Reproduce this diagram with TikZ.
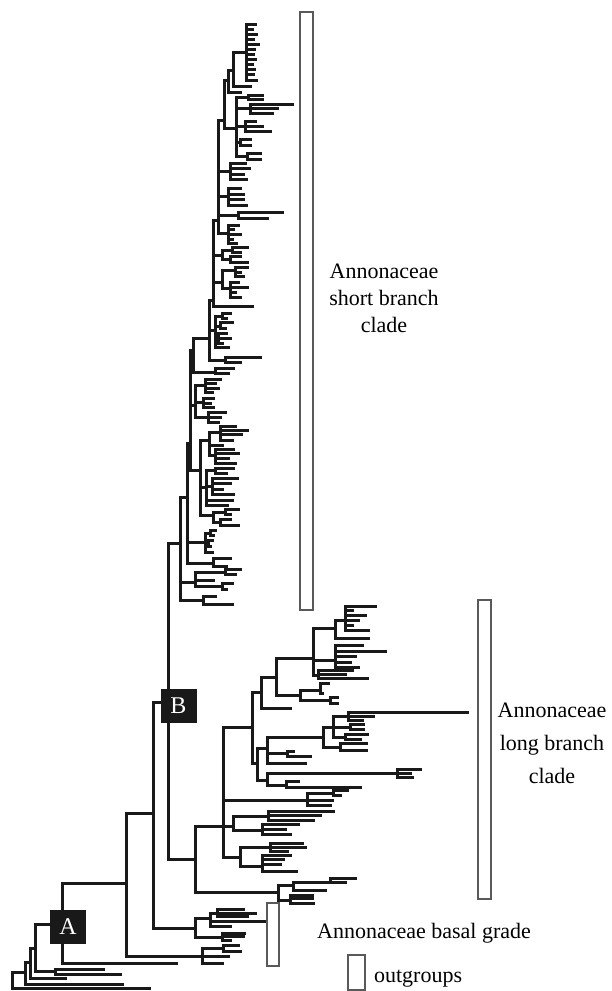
\documentclass[tikz,border=0pt]{standalone}
\usepackage{fontspec}
\setmainfont{Liberation Serif}
\usepackage{tikz}
\usetikzlibrary{positioning}

\tikzset{
  br/.style={line width=1.5pt, line cap=rect, draw=black!90},
  bar/.style={draw=black!65, line width=0.75pt, fill=white},
  nodebox/.style={rectangle, fill=black!90, text=white, minimum width=18pt, minimum height=17pt, inner sep=0pt, font=\fontsize{12}{14}\selectfont},
  lbl/.style={align=center, font=\fontsize{11}{13.5}\selectfont}
}

% one internal node: x, top y, bottom y, list of child y/end x
\newcommand{\clade}[4]{%
  \draw[br] (#1,#2) -- (#1,#3);
  \foreach \cy/\cx in {#4} {\draw[br] (#1,\cy) -- (\cx,\cy);}
}

\begin{document}
\begin{tikzpicture}[x=0.5pt, y=-0.5pt]
\useasboundingbox (0,0) rectangle (611,991);

% outgroups and backbone
\clade{12}{972}{988}{972/25, 988/149}
\clade{25}{962}{984}{962/30, 984/122}
\clade{30}{948}{978}{948/35, 978/65}
\clade{35}{924}{971}{924/62, 971/55}
\clade{55}{969}{974}{969/103, 974/120}
\clade{62}{883}{963}{883/126, 963/176}
\clade{126}{813}{956}{813/153, 956/202}
\clade{202}{948}{963}{948/223, 956/228, 963/222}
\clade{223}{945}{951}{945/238, 951/240}
\clade{153}{702}{928}{702/168, 928/195}

% basal grade
\clade{195}{918}{937}{918/210, 937/222}
\clade{210}{913}{926}{913/217, 921/264, 926/230}
\clade{217}{909}{916}{909/243, 913/255, 916/247}
\clade{222}{933}{940}{933/244, 936/243, 940/230}

% node B
\clade{168}{543}{859}{543/180, 859/195}

% long branch clade
\clade{195}{826}{892}{826/223, 892/278}
\clade{278}{885}{900}{885/293, 900/290}
\clade{293}{882}{890}{882/330, 890/325}
\clade{330}{878}{882}{878/355, 882/345}
\clade{290}{895}{903}{895/312, 898/312, 903/313}
\clade{223}{727}{857}{727/252, 800/307, 826/233, 857/240}
\clade{307}{793}{805}{793/333, 800/332, 805/330}
\clade{333}{790}{795}{790/347, 795/340}
\clade{233}{816}{830}{816/268, 830/262}
\clade{268}{811}{820}{811/333, 815/320, 820/313}
\clade{262}{824}{834}{824/298, 829/285, 834/290}
\clade{240}{847}{866}{847/270, 866/262}
\clade{270}{843}{851}{843/302, 847/305, 851/287}
\clade{262}{855}{871}{855/290, 859/283, 864/280, 871/296}
\clade{252}{692}{763}{692/261, 763/257}
\clade{261}{677}{708}{677/276, 708/290}
\clade{276}{658}{695}{658/313, 695/300}
\clade{313}{628}{675}{628/335, 660/335, 675/318}
\clade{335}{620}{638}{620/345, 638/368}
\clade{345}{606}{630}{606/375, 610/352, 615/365, 620/358, 625/352, 630/368}
\clade{335}{645}{667}{645/362, 651/385, 656/355, 662/350, 667/358}
\clade{318}{670}{678}{670/352, 674/345, 678/367}
\clade{300}{690}{700}{690/320, 700/330}
\clade{320}{683}{693}{683/328, 693/322}
\clade{330}{697}{703}{697/337, 703/337}
\clade{257}{748}{780}{748/267, 780/267}
\clade{267}{737}{763}{737/323, 753/287, 763/305}
\clade{323}{727}{747}{727/333, 747/340}
\clade{333}{716}{737}{716/348, 727/350, 737/345}
\clade{348}{712}{720}{712/467, 716/373, 720/362}
\clade{350}{724}{729}{724/363, 729/363}
\clade{345}{734}{739}{734/367, 739/360}
\clade{340}{743}{750}{743/366, 750/366}
\clade{287}{751}{756}{751/293, 756/310}
\clade{267}{773}{785}{773/397, 785/286}
\clade{397}{769}{777}{769/420, 773/410, 777/412}
\clade{286}{781}{787}{781/298, 787/360}

% short branch clade, lower part
\clade{180}{497}{600}{497/187, 582/195, 600/203}
\clade{187}{443}{563}{443/190, 542/205, 563/213}
\clade{190}{350}{470}{350/193, 405/195, 470/200}
\clade{200}{440}{515}{440/209, 487/206, 515/213}
\clade{209}{432}{455}{432/220, 445/222, 455/215}
\clade{220}{426}{440}{426/235, 430/247, 434/241, 440/232}
\clade{215}{449}{463}{449/233, 453/238, 458/228, 463/235}
\clade{206}{470}{505}{470/215, 486/212, 500/232, 505/227}
\clade{215}{468}{473}{468/233, 473/226}
\clade{212}{478}{494}{478/237, 483/230, 489/222, 494/233}
\clade{213}{512}{522}{512/225, 522/220}
\clade{225}{509}{514}{509/238, 514/230}
\clade{220}{519}{525}{519/230, 525/238}
\clade{195}{385}{417}{385/205, 402/203, 417/208}
\clade{205}{379}{392}{379/220, 383/215, 388/218, 392/212}
\clade{203}{398}{407}{398/213, 403/210, 407/213}
\clade{208}{412}{422}{412/225, 417/220, 422/218}
\clade{205}{533}{552}{533/210, 543/208, 552/212}
\clade{210}{530}{535}{530/215, 535/213}
\clade{208}{540}{546}{540/212, 546/210}
\clade{213}{558}{566}{558/230, 566/226}
\clade{195}{572}{586}{572/225, 580/213, 586/222}
\clade{225}{569}{574}{569/240, 574/235}
\clade{222}{583}{589}{583/232, 589/226}
\clade{203}{596}{604}{596/215, 604/232}

% short branch clade, middle part
\clade{193}{338}{372}{338/209, 372/215}
\clade{215}{368}{373}{368/233, 373/228}
\clade{209}{300}{360}{300/213, 330/215, 360/225}
\clade{215}{316}{347}{316/222, 326/220, 338/218, 347/228}
\clade{222}{313}{318}{313/230, 318/226}
\clade{220}{322}{328}{322/232, 328/225}
\clade{218}{333}{343}{333/226, 338/230, 343/222}
\clade{225}{357}{362}{357/260, 362/240}
\clade{213}{220}{306}{220/218, 255/222, 282/222, 306/252}
\clade{222}{250}{259}{250/232, 259/230}
\clade{232}{247}{252}{247/247, 252/240}
\clade{230}{256}{262}{256/240, 262/247}
\clade{222}{270}{288}{270/235, 288/230}
\clade{235}{267}{276}{267/247, 272/240, 276/243}
\clade{230}{282}{297}{282/238, 287/247, 292/235, 297/240}

% short branch clade, upper part
\clade{218}{120}{233}{120/224, 171/230, 196/228, 215/238, 233/228}
\clade{230}{163}{179}{163/245, 168/249, 174/243, 179/246}
\clade{228}{188}{205}{188/240, 194/243, 199/243, 205/246}
\clade{238}{212}{218}{212/282, 218/267}
\clade{228}{225}{243}{225/238, 229/233, 234/240, 239/232, 243/236}
\clade{224}{80}{128}{80/228, 128/236}
\clade{236}{97}{156}{97/248, 108/250, 126/245, 142/240, 156/247}
\clade{248}{95}{99}{95/262, 99/262}
\clade{250}{104}{113}{104/292, 108/277, 113/272}
\clade{245}{121}{131}{121/255, 126/262, 131/270}
\clade{240}{139}{145}{139/250, 145/250}
\clade{247}{153}{159}{153/260, 159/260}
\clade{228}{70}{92}{70/233, 92/240}
\clade{233}{52}{86}{52/246, 86/250}
\clade{246}{24}{80}{24/255, 29/252, 34/256, 39/253, 44/258, 49/254, 54/253, 59/255, 64/252, 69/254, 74/253, 80/256}

% node boxes
\node[nodebox] (A) at (68,927) {A};
\node[nodebox] (B) at (178.5,705.5) {B};

% clade bars
\draw[bar] (300,12) rectangle (313,610);
\draw[bar] (478,600) rectangle (491,899);
\draw[bar] (267,903) rectangle (279,966);
\draw[bar] (348,955) rectangle (365,990);

% labels
\node[lbl] (sbc) at (384,298) {Annonaceae\\short branch\\clade};
\node[lbl, font=\fontsize{11}{16.5}\selectfont] (lbc) at (552,743) {Annonaceae\\long branch\\clade};
\node[lbl, anchor=base] (bgr) at (424,938) {Annonaceae basal grade};
\node[lbl, anchor=base west] (og) at (367,982) {outgroups};
\end{tikzpicture}
\end{document}
